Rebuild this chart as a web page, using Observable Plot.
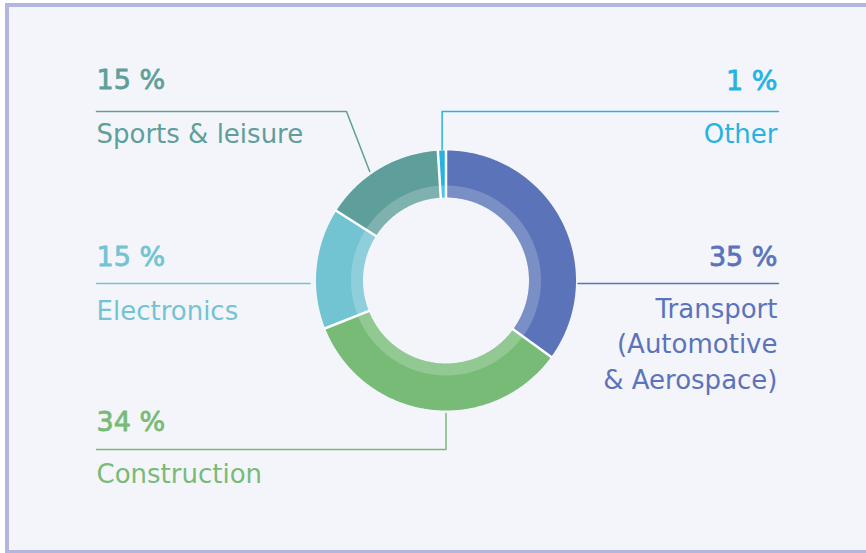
<!DOCTYPE html>
<html>
<head>
<meta charset="utf-8">
<script src="https://cdn.jsdelivr.net/npm/d3@7"></script>
<script src="https://cdn.jsdelivr.net/npm/@observablehq/plot@0.6"></script>
<style>
  html, body { margin: 0; padding: 0; background: #ffffff; }
  body { width: 866px; height: 553px; overflow: hidden; position: relative; }
  .card { position: absolute; left: 5px; top: 3px; width: 857px; height: 543px;
          border: 4px solid #b3b7df; border-right: none; background: #f4f5fa; }
  #chart { position: absolute; left: 0; top: 0; }
  #chart svg { display: block; }
</style>
</head>
<body>
<div class="card"></div>
<div id="chart"></div>
<script>
// ---- data ----
const categories = ["Transport", "Construction", "Electronics", "Sports & leisure", "Other"];
const shares = [35, 34, 15, 15, 1];
const pctLabels = ["35 %", "34 %", "15 %", "15 %", "1 %"];
const labelTexts = ["Transport\n(Automotive\n& Aerospace)", "Construction", "Electronics", "Sports & leisure", "Other"];
const colors = ["#5b74b9", "#77bb77", "#73c4d3", "#5f9f9b", "#27b3e2"];

// ---- layout (positions only) ----
const W = 866, H = 553;
const cx = 445.5, cy = 280, R = 130, rIn = 83, rBand = 95;
const leftX = 96, rightX = 778;
const layout = {
  "Transport":        {side: "right", pctY: 265, lineY: 283, labelY: 388, attachDeg: 90,    attachR: 132, elbow: "none"},
  "Construction":     {side: "left",  pctY: 430, lineY: 449, labelY: 482, attachDeg: 180,   attachR: 133, elbow: "vertical"},
  "Electronics":      {side: "left",  pctY: 265, lineY: 283, labelY: 319, attachDeg: 270,   attachR: 136, elbow: "none"},
  "Sports & leisure": {side: "left",  pctY: 88,  lineY: 111, labelY: 142, attachDeg: 325,   attachR: 133, elbow: 346},
  "Other":            {side: "right", pctY: 89,  lineY: 111, labelY: 142, attachDeg: 358.3, attachR: 131, elbow: "vertical"}
};

const rows = categories.map((c, i) => ({cat: c, share: shares[i], pct: pctLabels[i], label: labelTexts[i]}));
const arcs = d3.pie().sort(null).value(d => d.share)(rows);

function polar(a, r) { return [cx + r * Math.sin(a), cy - r * Math.cos(a)]; }
function ring(arc, r0, r1, key) {
  const pts = [];
  const n = Math.max(2, Math.ceil((arc.endAngle - arc.startAngle) / (Math.PI / 360)));
  for (let k = 0; k <= n; k++) {
    const a = arc.startAngle + (arc.endAngle - arc.startAngle) * k / n;
    const [x, y] = polar(a, r1); pts.push({key, cat: arc.data.cat, x, y});
  }
  for (let k = n; k >= 0; k--) {
    const a = arc.startAngle + (arc.endAngle - arc.startAngle) * k / n;
    const [x, y] = polar(a, r0); pts.push({key, cat: arc.data.cat, x, y});
  }
  pts.push({...pts[0]});
  return pts;
}
const slicePts = arcs.flatMap(a => ring(a, rIn, R, a.data.cat));
const bandPts = arcs.flatMap(a => ring(a, rIn, rBand, a.data.cat + "-band"));
// radial white separators at each slice boundary
const gaps = arcs.map(a => {
  const [x1, y1] = polar(a.startAngle, rIn - 1);
  const [x2, y2] = polar(a.startAngle, R + 1);
  return {x1, y1, x2, y2};
});

// leader lines
const leaderPts = rows.flatMap(d => {
  const L = layout[d.cat];
  const [ax, ay] = polar(L.attachDeg * Math.PI / 180, L.attachR);
  const startX = L.side === "left" ? leftX : rightX;
  const pts = [[startX, L.lineY]];
  if (L.elbow === "none") pts.push([ax, L.lineY]);
  else if (L.elbow === "vertical") { pts.push([ax, L.lineY]); pts.push([ax, ay]); }
  else { pts.push([L.elbow, L.lineY]); pts.push([ax, ay]); }
  return pts.map(([x, y]) => ({cat: d.cat, x, y}));
});

const textRows = rows.map(d => ({...d, side: layout[d.cat].side, pctY: layout[d.cat].pctY, labelY: layout[d.cat].labelY,
  tx: layout[d.cat].side === "left" ? leftX : rightX - 1}));
const leftRows = textRows.filter(d => d.side === "left");
const rightRows = textRows.filter(d => d.side === "right");

const font = "DejaVu Sans, sans-serif";
const pctOpts = (anchor) => ({x: "tx", y: "pctY", text: "pct", fill: "cat", stroke: "cat", strokeWidth: 0.8,
  textAnchor: anchor, lineAnchor: "bottom", fontSize: 27, fontFamily: font});
const labOpts = (anchor) => ({x: "tx", y: "labelY", text: "label", fill: "cat", textAnchor: anchor,
  lineAnchor: "bottom", fontSize: 26, fontFamily: font, lineHeight: 1.35});

const chart = Plot.plot({
  width: W, height: H, margin: 0,
  x: {domain: [0, W], range: [0, W], axis: null},
  y: {domain: [0, H], range: [0, H], axis: null},
  color: {domain: categories, range: colors},
  style: {background: "transparent", overflow: "visible"},
  marks: [
    Plot.line(slicePts, {x: "x", y: "y", z: "key", fill: "cat", stroke: "none", curve: "linear"}),
    Plot.line(bandPts, {x: "x", y: "y", z: "key", fill: "white", fillOpacity: 0.2, stroke: "none", curve: "linear"}),
    Plot.link(gaps, {x1: "x1", y1: "y1", x2: "x2", y2: "y2", stroke: "white", strokeWidth: 2.5}),
    Plot.line(leaderPts, {x: "x", y: "y", z: "cat", stroke: "cat", strokeWidth: 1.5, curve: "linear"}),
    Plot.text(leftRows, pctOpts("start")),
    Plot.text(rightRows, pctOpts("end")),
    Plot.text(leftRows, labOpts("start")),
    Plot.text(rightRows, labOpts("end"))
  ]
});
document.getElementById("chart").appendChild(chart);
</script>
</body>
</html>
